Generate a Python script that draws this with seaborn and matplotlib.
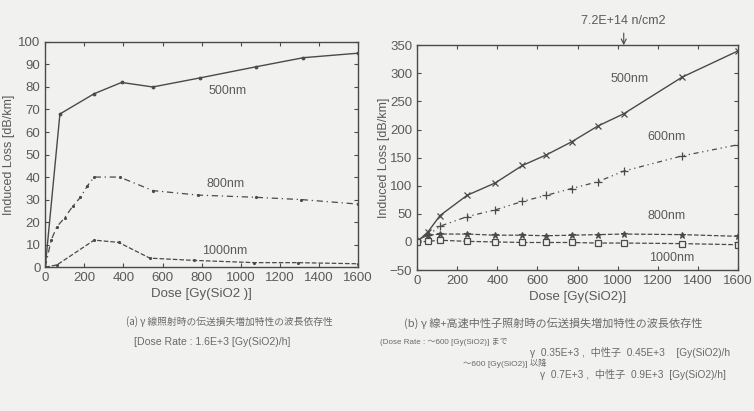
import numpy as np
import pandas as pd
import matplotlib
matplotlib.use("Agg")
import matplotlib.pyplot as plt
import seaborn as sns

# ---------------- data ----------------
# (a) gamma-ray irradiation
a_dose_500 = [0, 75, 250, 390, 550, 790, 1080, 1320, 1600]
a_loss_500 = [0, 68, 77, 82, 80, 84, 89, 93, 95]
a_dose_800 = [0, 30, 60, 100, 140, 180, 215, 250, 380, 550, 780, 1080, 1310, 1600]
a_loss_800 = [0, 12, 18, 22, 27, 31, 36, 40, 40, 34, 32, 31, 30, 28]
a_dose_1000 = [0, 60, 250, 375, 535, 760, 1070, 1290, 1600]
a_loss_1000 = [0, 1, 12, 11, 4, 3, 2, 2, 1.5]

# (b) gamma-ray + fast neutron irradiation
b_dose = [0, 55, 115, 250, 390, 525, 645, 770, 900, 1030, 1320, 1600]
b_loss_500 = [0, 18, 47, 83, 105, 136, 155, 178, 206, 228, 293, 340]
b_loss_600 = [3, 12, 28, 45, 57, 72, 83, 95, 107, 126, 153, 173]
b_loss_800 = [3, 12, 14, 14, 12, 12, 11, 12, 13, 14, 13, 10]
b_loss_1000 = [0, 1, 3, 1, 0, -1, -1, -1, -2, -2, -3, -5]

x_ticks = [0, 200, 400, 600, 800, 1000, 1200, 1400, 1600]
a_y_ticks = [0, 10, 20, 30, 40, 50, 60, 70, 80, 90, 100]
b_y_ticks = [-50, 0, 50, 100, 150, 200, 250, 300, 350]

# ---------------- style ----------------
sns.set_style("ticks")
BG = "#f1f1ef"
INK = "#4a4a4a"
TXT = "#5a5a5a"
plt.rcParams["font.family"] = ["Liberation Sans", "DejaVu Sans"]
plt.rcParams.update({
    "axes.edgecolor": INK,
    "axes.linewidth": 1.0,
    "xtick.color": INK, "ytick.color": INK,
    "xtick.labelcolor": TXT, "ytick.labelcolor": TXT,
    "xtick.direction": "in", "ytick.direction": "in",
    "xtick.top": True, "ytick.right": True,
    "xtick.major.size": 3, "ytick.major.size": 3,
    "font.size": 9,
})

fig = plt.figure(figsize=(7.54, 4.11), dpi=100, facecolor=BG)
axA = fig.add_axes([0.060, 0.350, 0.415, 0.548])
axB = fig.add_axes([0.553, 0.343, 0.426, 0.547])
for ax in (axA, axB):
    ax.set_facecolor(BG)

mk = dict(markeredgecolor=INK, markerfacecolor=INK)
DASHDOT = (0, (5, 3, 1, 3))
DOTDASH = (0, (1, 3, 1, 3, 4, 3))

# ---------------- panel (a) ----------------
sns.lineplot(x=a_dose_500, y=a_loss_500, ax=axA, color=INK, linestyle="-",
             marker=".", markersize=4, linewidth=1.0, **mk)
sns.lineplot(x=a_dose_800, y=a_loss_800, ax=axA, color=INK, linestyle=DASHDOT,
             marker=".", markersize=3, linewidth=0.9, **mk)
sns.lineplot(x=a_dose_1000, y=a_loss_1000, ax=axA, color=INK, linestyle="--",
             marker=".", markersize=3, linewidth=0.9, **mk)
axA.set_xlim(0, 1600)
axA.set_ylim(0, 100)
axA.set_xticks(x_ticks)
axA.set_yticks(a_y_ticks)
axA.tick_params(labelsize=9.5)
axA.set_xlabel("Dose [Gy(SiO2 )]", color=TXT, fontsize=9.5, labelpad=3)
axA.set_ylabel("Induced Loss [dB/km]", color=TXT, fontsize=9, labelpad=2)
axA.text(930, 78, "500nm", color=TXT, fontsize=9, ha="center", va="center")
axA.text(920, 37, "800nm", color=TXT, fontsize=9, ha="center", va="center")
axA.text(920, 7, "1000nm", color=TXT, fontsize=9, ha="center", va="center")

# ---------------- panel (b) ----------------
sns.lineplot(x=b_dose, y=b_loss_500, ax=axB, color=INK, linestyle="-",
             marker="x", markersize=5, markeredgewidth=0.9, linewidth=1.0,
             markeredgecolor=INK)
sns.lineplot(x=b_dose, y=b_loss_600, ax=axB, color=INK, linestyle=DOTDASH,
             marker="+", markersize=6, markeredgewidth=0.9, linewidth=0.9,
             markeredgecolor=INK)
sns.lineplot(x=b_dose, y=b_loss_800, ax=axB, color=INK, linestyle="--",
             marker="*", markersize=5, markeredgewidth=0.8, linewidth=0.9,
             markeredgecolor=INK, markerfacecolor=INK)
sns.lineplot(x=b_dose, y=b_loss_1000, ax=axB, color=INK, linestyle="--",
             marker="s", markersize=5, markerfacecolor=BG, markeredgecolor=INK,
             markeredgewidth=0.9, linewidth=0.9)
axB.set_xlim(0, 1600)
axB.set_ylim(-50, 350)
axB.set_xticks(x_ticks)
axB.set_yticks(b_y_ticks)
axB.tick_params(labelsize=9.5)
axB.set_xlabel("Dose [Gy(SiO2)]", color=TXT, fontsize=9.5, labelpad=3)
axB.set_ylabel("Induced Loss [dB/km]", color=TXT, fontsize=9, labelpad=0)
axB.text(1060, 290, "500nm", color=TXT, fontsize=9, ha="center", va="center")
axB.text(1242, 187, "600nm", color=TXT, fontsize=9, ha="center", va="center")
axB.text(1242, 47, "800nm", color=TXT, fontsize=9, ha="center", va="center")
axB.text(1267, -29, "1000nm", color=TXT, fontsize=9, ha="center", va="center")
axB.annotate("7.2E+14 n/cm2", xy=(1030, 350), xytext=(1030, 393),
             ha="center", va="center", color=TXT, fontsize=9,
             annotation_clip=False,
             arrowprops=dict(arrowstyle="->", color=INK, lw=0.8,
                             shrinkA=2, shrinkB=0))

# ---------------- captions ----------------
jp = ["Noto Sans CJK JP", "DejaVu Sans"]
lat = ["Liberation Sans", "Noto Sans CJK JP", "DejaVu Sans"]
cap = "#6a6a6a"
fig.text(229 / 754, 1 - 322 / 411, "(a) γ 線照射時の伝送損失増加特性の波長依存性",
         family=jp, fontsize=7.0, color=cap, ha="center", va="center")
fig.text(212 / 754, 1 - 342 / 411, "[Dose Rate : 1.6E+3 [Gy(SiO2)/h]",
         family=lat, fontsize=7.6, color=cap, ha="center", va="center")
fig.text(553 / 754, 1 - 323 / 411, "(b) γ 線+高速中性子照射時の伝送損失増加特性の波長依存性",
         family=jp, fontsize=8.0, color=cap, ha="center", va="center")
fig.text(380 / 754, 1 - 342 / 411, "(Dose Rate : ～600 [Gy(SiO2)] まで",
         family=lat, fontsize=5.8, color=cap, ha="left", va="center")
fig.text(530 / 754, 1 - 352 / 411, "γ  0.35E+3 ,  中性子  0.45E+3    [Gy(SiO2)/h",
         family=lat, fontsize=7.3, color=cap, ha="left", va="center")
fig.text(463 / 754, 1 - 363 / 411, "～600 [Gy(SiO2)] 以降",
         family=lat, fontsize=6.0, color=cap, ha="left", va="center")
fig.text(540 / 754, 1 - 374 / 411, "γ  0.7E+3 ,  中性子  0.9E+3  [Gy(SiO2)/h]",
         family=lat, fontsize=7.3, color=cap, ha="left", va="center")

fig.savefig("out.png", dpi=100, facecolor=BG)
